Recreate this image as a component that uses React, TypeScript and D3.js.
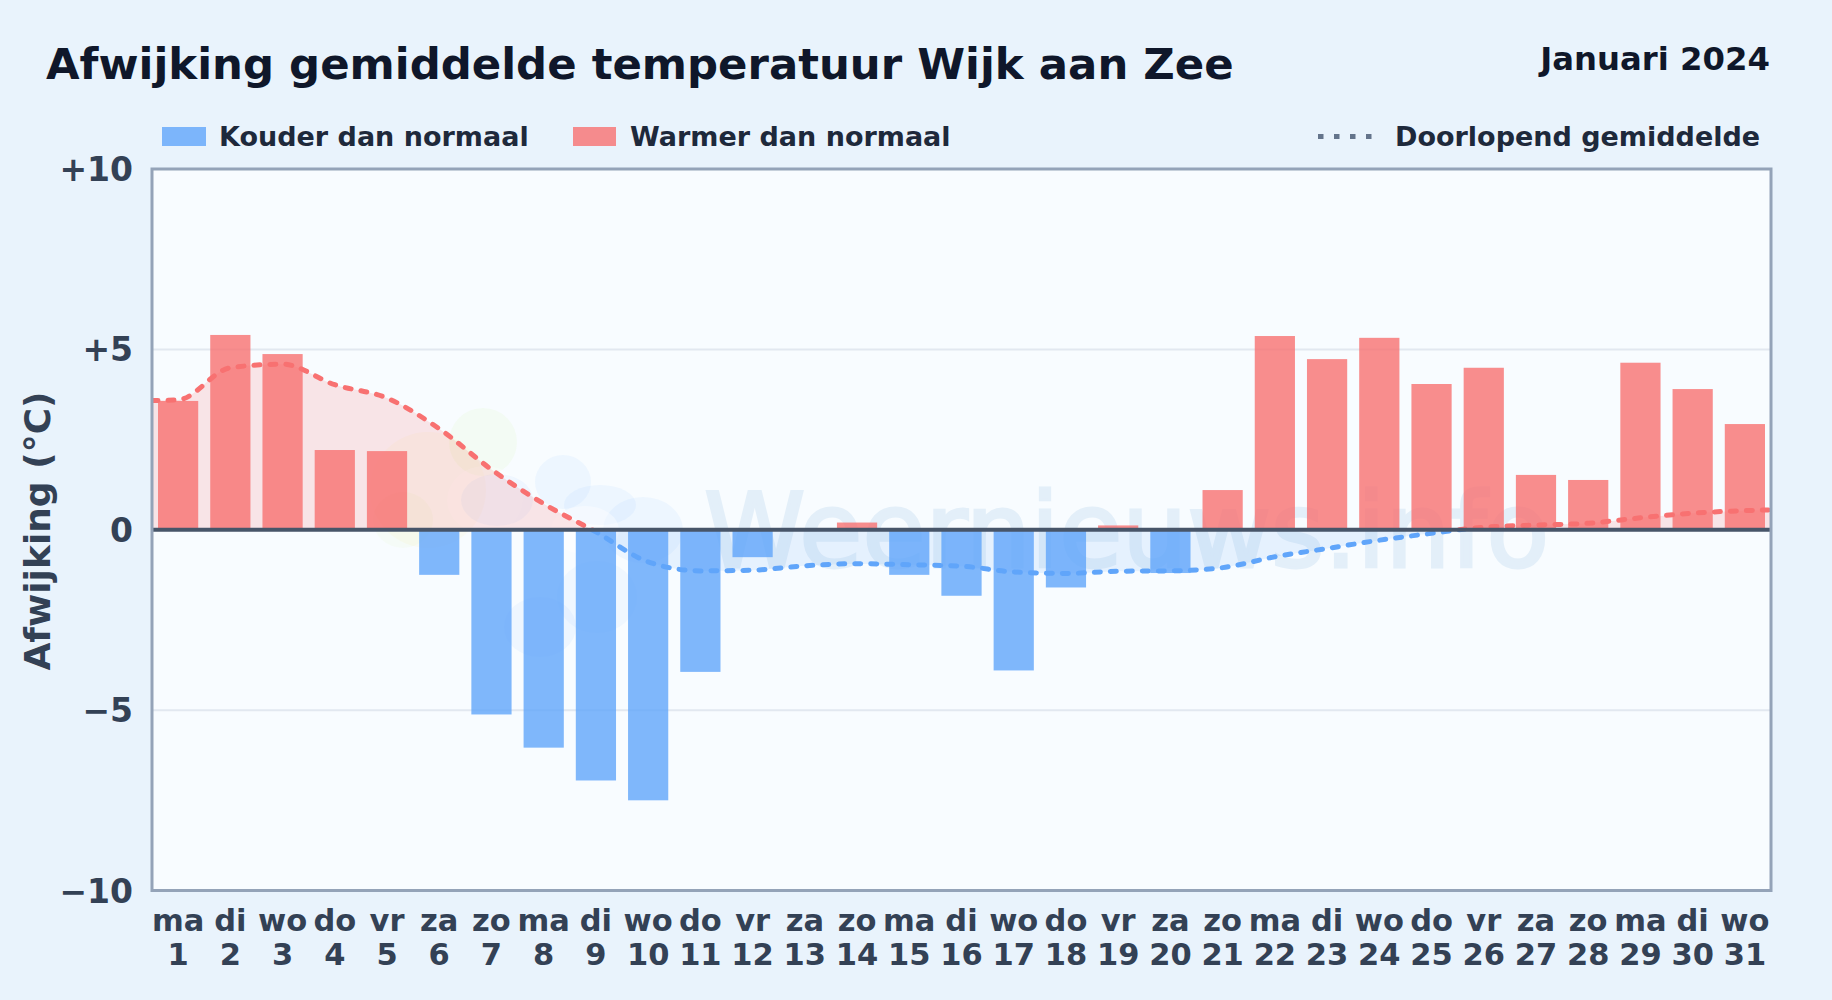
import React from "react";
import * as d3 from "d3";

const weekdays = ["ma","di","wo","do","vr","za","zo","ma","di","wo","do","vr","za","zo","ma","di","wo","do","vr","za","zo","ma","di","wo","do","vr","za","zo","ma","di","wo"];
const days = d3.range(1, 32);
const anomalies = [3.57,5.4,4.87,2.21,2.18,-1.25,-5.12,-6.04,-6.95,-7.5,-3.94,-0.76,0,0.2,-1.25,-1.83,-3.9,-1.6,0.12,-1.2,1.1,5.37,4.73,5.32,4.04,4.49,1.52,1.38,4.63,3.9,2.93];
const runningMean = [3.6,4.49,4.59,4.02,3.65,2.8,1.67,0.72,-0.06,-0.89,-1.14,-1.12,-1.0,-0.94,-0.97,-1.01,-1.17,-1.21,-1.15,-1.14,-1.05,-0.75,-0.52,-0.29,-0.1,0.07,0.13,0.18,0.33,0.46,0.53];
const runningStart = 3.58;
const runningEnd = 0.55;
const yTicks = [10, 5, 0, -5, -10];
const tickLabels = ["+10", "+5", "0", "−5", "−10"];
const gridTicks = [5, -5];

const W = 1832, H = 1000;
const L = 152, R = 1771, T = 169, B = 890.5;
const FONT = "'DejaVu Sans', sans-serif";

export default function App() {
  const x = d3.scaleBand<number>().domain(days).range([L, R]).paddingInner(0.23).paddingOuter(0.115);
  const y = d3.scaleLinear().domain([-10, 10]).range([B, T]);
  const cx = (d: number) => (x(d) as number) + x.bandwidth() / 2;
  const pts: [number, number][] = [[L, runningStart], ...runningMean.map((v, i) => [cx(days[i]), v] as [number, number]), [R, runningEnd]];
  const line = d3.line<[number, number]>().x(d => d[0]).y(d => y(d[1])).curve(d3.curveMonotoneX);
  const area = d3.area<[number, number]>().x(d => d[0]).y0(y(0)).y1(d => y(d[1])).curve(d3.curveMonotoneX);
  const red = "#f87171", blue = "#60a5fa";
  return (
    <svg width={W} height={H} viewBox={`0 0 ${W} ${H}`} style={{ position: "absolute", left: 0, top: 0, display: "block" }} fontFamily={FONT}>
      <defs>
        <clipPath id="above"><rect x={L} y={T} width={R - L} height={y(0) - T} /></clipPath>
        <clipPath id="below"><rect x={L} y={y(0)} width={R - L} height={B - y(0)} /></clipPath>
      </defs>
      <rect width={W} height={H} fill="#e9f3fc" />
      <text x={46} y={79} fontSize={43.4} fontWeight={700} fill="#0f172a">Afwijking gemiddelde temperatuur Wijk aan Zee</text>
      <text x={1770} y={70} fontSize={32.3} fontWeight={700} fill="#0f172a" textAnchor="end">Januari 2024</text>

      <rect x={162} y={127} width={44} height={19} fill={blue} fillOpacity={0.8} />
      <text x={219} y={146} fontSize={27} fontWeight={700} fill="#1e293b">Kouder dan normaal</text>
      <rect x={573} y={127} width={43} height={19} fill={red} fillOpacity={0.8} />
      <text x={630} y={146} fontSize={27} fontWeight={700} fill="#1e293b">Warmer dan normaal</text>
      <line x1={1318} x2={1374} y1={136.5} y2={136.5} stroke="#64748b" strokeWidth={5} strokeDasharray="5.5 10.5" />
      <text x={1395} y={146} fontSize={27} fontWeight={700} fill="#1e293b">Doorlopend gemiddelde</text>

      <rect x={L} y={T} width={R - L} height={B - T} fill="#f8fcff" />
      {gridTicks.map(t => <line key={t} x1={L} x2={R} y1={y(t)} y2={y(t)} stroke="#e2e8f0" strokeWidth={2} />)}

      <g>
        <circle cx={483} cy={442} r={34} fill="#bef264" opacity={0.07} />
        <circle cx={428} cy={490} r={58} fill="#fde047" opacity={0.06} />
        <ellipse cx={403} cy={520} rx={30} ry={28} fill="#bef264" opacity={0.05} />
        <ellipse cx={485} cy={500} rx={38} ry={34} fill="#ffffff" opacity={0.3} />
        <ellipse cx={497} cy={500} rx={36} ry={26} fill="#3b82f6" opacity={0.05} />
        <ellipse cx={563} cy={482} rx={28} ry={27} fill="#60a5fa" opacity={0.07} />
        <ellipse cx={600} cy={505} rx={36} ry={20} fill="#60a5fa" opacity={0.07} />
        <ellipse cx={643} cy={530} rx={40} ry={33} fill="#60a5fa" opacity={0.07} />
        <ellipse cx={585} cy={530} rx={34} ry={24} fill="#ffffff" opacity={0.4} />
        <ellipse cx={540} cy={627} rx={36} ry={30} fill="#3b82f6" opacity={0.05} />
        <ellipse cx={597} cy={597} rx={40} ry={36} fill="#60a5fa" opacity={0.06} />
        <text x={704} y={567} fontSize={102.5} fill="#5b9bd5" opacity={0.13} fontWeight={400} stroke="#5b9bd5" strokeWidth={3}>Weernieuws.info</text>
      </g>

      <path d={area(pts) as string} fill={red} fillOpacity={0.17} clipPath="url(#above)" />
      <path d={area(pts) as string} fill={blue} fillOpacity={0.12} clipPath="url(#below)" />

      {anomalies.map((v, i) => v === 0 ? null : (
        <rect key={i} x={x(days[i])} width={x.bandwidth()} y={Math.min(y(v), y(0))} height={Math.abs(y(v) - y(0))} fill={v > 0 ? red : blue} fillOpacity={0.8} />
      ))}

      <path d={line(pts) as string} fill="none" stroke={red} strokeWidth={5} strokeLinecap="round" strokeDasharray="6 10" clipPath="url(#above)" />
      <path d={line(pts) as string} fill="none" stroke={blue} strokeWidth={5} strokeLinecap="round" strokeDasharray="6 10" clipPath="url(#below)" />

      <line x1={L} x2={R} y1={y(0)} y2={y(0)} stroke="#475569" strokeWidth={4} />
      <rect x={L} y={T} width={R - L} height={B - T} fill="none" stroke="#94a3b8" strokeWidth={3} />

      {yTicks.map((t, i) => (
        <text key={t} x={133} y={y(t) + 12} textAnchor="end" fontSize={33} fontWeight={700} fill="#334155">{tickLabels[i]}</text>
      ))}
      {days.map((d, i) => (
        <g key={d} textAnchor="middle" fontSize={30.5} fontWeight={700} fill="#334155">
          <text x={cx(d)} y={931}>{weekdays[i]}</text>
          <text x={cx(d)} y={965}>{d}</text>
        </g>
      ))}
      <text transform={`translate(50,531) rotate(-90)`} textAnchor="middle" fontSize={36} fontWeight={700} fill="#334155">Afwijking (°C)</text>
    </svg>
  );
}
